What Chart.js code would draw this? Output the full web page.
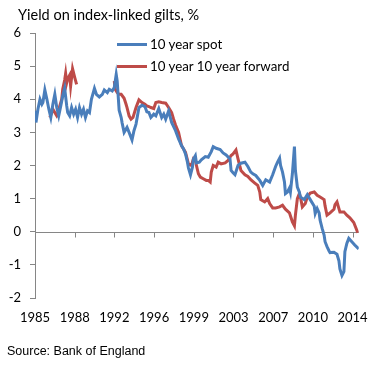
<!DOCTYPE html>
<html>
<head>
<meta charset="utf-8">
<script src="https://cdn.jsdelivr.net/npm/chart.js@4.4.1/dist/chart.umd.min.js"></script>
<style>
  html, body { margin: 0; padding: 0; background: #fff; }
  #wrap { position: relative; width: 380px; height: 368px; font-family: Lato, "Open Sans", sans-serif; }
  #chart { position: absolute; left: 0; top: 0; }
  #title { position: absolute; left: 18px; top: 6px; font-size: 14.5px; color: #000; white-space: nowrap; }
  #source { position: absolute; left: 7px; top: 344px; font-size: 12.5px; color: #000; font-family: "Liberation Sans", Arial, sans-serif; }
  #legend { position: absolute; left: 117px; top: 33px; font-size: 13.3px; color: #000; }
  #legend div { height: 22px; display: flex; align-items: center; white-space: nowrap; }
  #legend span.sw { display: inline-block; width: 30px; height: 3px; margin-right: 3px; }
</style>
</head>
<body>
<div id="wrap">
  <canvas id="chart" width="380" height="368"></canvas>
  <div id="title">Yield on index-linked gilts, %</div>
  <div id="legend"></div>
  <div id="source">Source: Bank of England</div>
</div>
<script>
// x-axis labels (Excel category labels, evenly spaced)
const tickLabels = ['1985', '1988', '1992', '1996', '1999', '2003', '2007', '2010', '2014'];
const tickYears = [1985, 1988.67, 1992.33, 1996, 1999.67, 2003.33, 2007, 2010.67, 2014.33];

const seriesNames = ['10 year spot', '10 year 10 year forward'];
const seriesColors = ['#4A7EBB', '#BE4B48'];

// 10 year spot real yield
const spotYears = [
  1985.00, 1985.09, 1985.27, 1985.46, 1985.64, 1985.73, 1985.91, 1986.10, 1986.28, 1986.46,
  1986.65, 1986.83, 1987.01, 1987.19, 1987.38, 1987.56, 1987.74, 1987.93, 1988.02, 1988.20,
  1988.38, 1988.57, 1988.75, 1988.93, 1989.11, 1989.30, 1989.48, 1989.66, 1989.85, 1990.03,
  1990.21, 1990.49, 1990.67, 1990.94, 1991.22, 1991.40, 1991.68, 1991.86, 1992.13, 1992.32,
  1992.50, 1992.59, 1992.77, 1992.96, 1993.05, 1993.23, 1993.50, 1993.69, 1993.96, 1994.14,
  1994.33, 1994.60, 1994.88, 1995.15, 1995.33, 1995.52, 1995.70, 1995.97, 1996.16, 1996.43,
  1996.70, 1996.89, 1997.07, 1997.34, 1997.62, 1997.98, 1998.26, 1998.53, 1998.72, 1998.90,
  1999.08, 1999.17, 1999.36, 1999.54, 1999.63, 1999.81, 1999.91, 2000.18, 2000.36, 2000.73,
  2001.00, 2001.28, 2001.46, 2001.73, 2002.10, 2002.37, 2002.65, 2003.01, 2003.11, 2003.29,
  2003.47, 2003.75, 2004.02, 2004.39, 2004.66, 2004.93, 2005.12, 2005.39, 2005.76, 2006.03,
  2006.31, 2006.67, 2006.95, 2007.22, 2007.40, 2007.59, 2007.68, 2007.86, 2008.04, 2008.13,
  2008.32, 2008.50, 2008.59, 2008.77, 2008.96, 2009.05, 2009.23, 2009.41, 2009.51, 2009.87,
  2010.15, 2010.42, 2010.79, 2010.88, 2011.06, 2011.24, 2011.33, 2011.52, 2011.70, 2011.79,
  2011.97, 2012.16, 2012.25, 2012.61, 2012.89, 2013.07, 2013.16, 2013.35, 2013.53, 2013.62,
  2013.80, 2013.98, 2014.26, 2014.53, 2014.90
];
const spotValues = [
  3.65, 3.30, 3.70, 4.00, 3.85, 3.90, 4.28, 4.00, 3.70, 3.45,
  3.85, 4.15, 3.75, 3.50, 3.80, 4.10, 4.33, 3.80, 3.60, 3.50,
  3.75, 3.55, 3.70, 3.45, 3.75, 3.55, 3.70, 3.45, 3.65, 3.60,
  4.00, 4.33, 4.15, 4.07, 4.15, 4.28, 4.20, 4.30, 4.25, 4.35,
  4.75, 4.55, 3.67, 3.45, 3.28, 3.00, 3.15, 3.00, 2.77, 3.05,
  3.25, 3.75, 3.82, 3.78, 3.62, 3.60, 3.45, 3.55, 3.50, 3.72,
  3.45, 3.55, 3.40, 3.65, 3.30, 3.05, 2.80, 2.60, 2.50, 2.35,
  2.10, 1.93, 1.72, 1.95, 2.20, 2.30, 2.08, 2.10, 2.17, 2.27,
  2.25, 2.42, 2.57, 2.52, 2.48, 2.38, 2.32, 2.20, 1.85, 1.78,
  1.72, 2.00, 2.07, 2.10, 1.97, 1.80, 1.75, 1.70, 1.55, 1.40,
  1.57, 1.50, 1.72, 1.97, 2.10, 2.22, 2.00, 1.80, 1.50, 1.15,
  1.20, 1.32, 1.20, 1.75, 2.57, 1.85, 1.35, 1.20, 1.05, 0.97,
  1.12, 0.97, 0.77, 0.55, 0.70, 0.57, 0.35, 0.10, -0.10, -0.30,
  -0.45, -0.58, -0.63, -0.62, -0.68, -0.88, -1.12, -1.32, -1.20, -0.60,
  -0.35, -0.20, -0.30, -0.40, -0.52
];

// 10 year 10 year forward real yield (null = no data)
const fwdYears = [
  1986.37, 1986.55, 1986.65, 1986.83, 1987.01, 1987.10, 1987.29, 1987.47, 1987.56, 1987.74,
  1987.83, 1987.93, 1988.02, 1988.20, 1988.29, 1988.47, 1988.66, 1988.84,
  1990.50,
  1992.32, 1992.41, 1992.59, 1992.77, 1992.96, 1993.23, 1993.41, 1993.50, 1993.69, 1993.87,
  1994.05, 1994.33, 1994.60, 1994.88, 1995.15, 1995.33, 1995.52, 1995.70, 1995.97, 1996.16,
  1996.43, 1996.70, 1997.07, 1997.34, 1997.62, 1997.80, 1997.98, 1998.26, 1998.53, 1998.72,
  1998.90, 1999.17, 1999.45, 1999.63, 1999.81, 1999.91, 2000.09, 2000.27, 2000.54, 2000.82,
  2001.00, 2001.18, 2001.28, 2001.46, 2001.73, 2001.92, 2002.19, 2002.56, 2002.83, 2003.11,
  2003.29, 2003.56, 2003.75, 2004.02, 2004.39, 2004.66, 2004.93, 2005.30, 2005.57, 2005.76,
  2005.85, 2006.21, 2006.49, 2006.67, 2006.95, 2007.22, 2007.59, 2007.86, 2008.13, 2008.50,
  2008.77, 2008.96, 2009.05, 2009.23, 2009.41, 2009.51, 2009.69, 2009.96, 2010.15, 2010.42,
  2010.79, 2011.06, 2011.33, 2011.70, 2011.79, 2011.97, 2012.25, 2012.61, 2012.71, 2012.89,
  2013.07, 2013.16, 2013.53, 2013.80, 2014.08, 2014.44, 2014.63, 2014.81
];
const fwdValues = [
  3.45, 3.60, 3.70, 3.60, 3.50, 3.55, 3.80, 4.00, 4.30, 4.58,
  4.78, 4.50, 4.62, 4.73, 4.40, 4.92, 4.67, 4.45,
  null,
  4.55, 4.30, 4.20, 4.15, 4.15, 4.03, 3.85, 3.75, 3.50, 3.40,
  3.45, 3.75, 3.98, 3.90, 3.85, 3.80, 3.78, 3.75, 3.72, 3.90,
  3.92, 3.90, 3.88, 3.75, 3.60, 3.40, 3.22, 3.00, 2.60, 2.50,
  2.40, 2.05, 2.00, 2.20, 2.15, 2.00, 1.75, 1.65, 1.60, 1.55,
  1.55, 1.50, 1.80, 2.00, 1.95, 2.10, 2.05, 2.08, 2.15, 2.30,
  2.35, 2.47, 2.20, 1.85, 1.72, 1.67, 1.57, 1.47, 1.40, 1.20,
  0.97, 0.90, 1.00, 0.85, 0.72, 0.72, 0.75, 0.80, 0.68, 0.57,
  0.30, 0.18, 0.50, 1.00, 1.15, 1.05, 0.75, 0.85, 1.05, 1.17,
  1.20, 1.10, 1.05, 0.97, 0.78, 0.50, 0.57, 0.68, 0.82, 0.90,
  0.70, 0.60, 0.60, 0.50, 0.42, 0.28, 0.12, -0.03
];

const axisColor = '#868686';
const font = { family: 'Lato, "Open Sans", sans-serif', size: 13 };

function toPoints(xs, ys) {
  return xs.map((x, i) => ({ x: x, y: ys[i] }));
}

// zero line with the category tick marks, drawn under the series like Excel
const zeroAxis = {
  id: 'zeroAxis',
  beforeDatasetsDraw(chart) {
    const ctx = chart.ctx;
    const xs = chart.scales.x;
    const y0 = Math.round(chart.scales.y.getPixelForValue(0)) + 0.5;
    ctx.save();
    ctx.strokeStyle = axisColor;
    ctx.lineWidth = 1;
    ctx.beginPath();
    ctx.moveTo(chart.chartArea.left, y0);
    ctx.lineTo(chart.chartArea.right, y0);
    tickYears.forEach(v => {
      const px = Math.round(xs.getPixelForValue(v)) + 0.5;
      ctx.moveTo(px, y0);
      ctx.lineTo(px, y0 + 5);
    });
    ctx.stroke();
    ctx.restore();
  }
};

const chart = new Chart(document.getElementById('chart'), {
  type: 'line',
  data: {
    datasets: [
      {
        label: seriesNames[0],
        data: toPoints(spotYears, spotValues),
        borderColor: seriesColors[0],
        borderWidth: 3,
        pointRadius: 0,
        tension: 0,
      },
      {
        label: seriesNames[1],
        data: toPoints(fwdYears, fwdValues),
        borderColor: seriesColors[1],
        borderWidth: 3,
        pointRadius: 0,
        tension: 0,
        spanGaps: false,
      },
    ],
  },
  options: {
    responsive: false,
    animation: false,
    layout: { padding: { left: 0, top: 33, right: 18, bottom: 0 } },
    plugins: {
      legend: { display: false },
      tooltip: { enabled: false },
    },
    scales: {
      x: {
        type: 'linear',
        min: 1985,
        max: 2014.9,
        afterBuildTicks: scale => { scale.ticks = tickYears.map(v => ({ value: v })); },
        afterFit: scale => { scale.height = 70; },
        grid: { display: false, drawTicks: false },
        border: { display: false },
        ticks: {
          autoSkip: false,
          maxRotation: 0,
          padding: 12,
          color: '#000',
          font: font,
          callback: (v, i) => tickLabels[i],
        },
      },
      y: {
        min: -2,
        max: 6,
        afterFit: scale => { scale.width = 35; },
        grid: { display: true, drawOnChartArea: false, drawTicks: true, tickLength: 5, color: axisColor },
        border: { display: true, color: axisColor },
        ticks: { stepSize: 1, padding: 9, color: '#000', font: font },
      },
    },
  },
  plugins: [zeroAxis],
});

// legend inside the plot, as in the original
const legendEl = document.getElementById('legend');
seriesNames.forEach((name, i) => {
  const row = document.createElement('div');
  row.innerHTML = '<span class="sw" style="background:' + seriesColors[i] + '"></span>' + name;
  legendEl.appendChild(row);
});
</script>
</body>
</html>
